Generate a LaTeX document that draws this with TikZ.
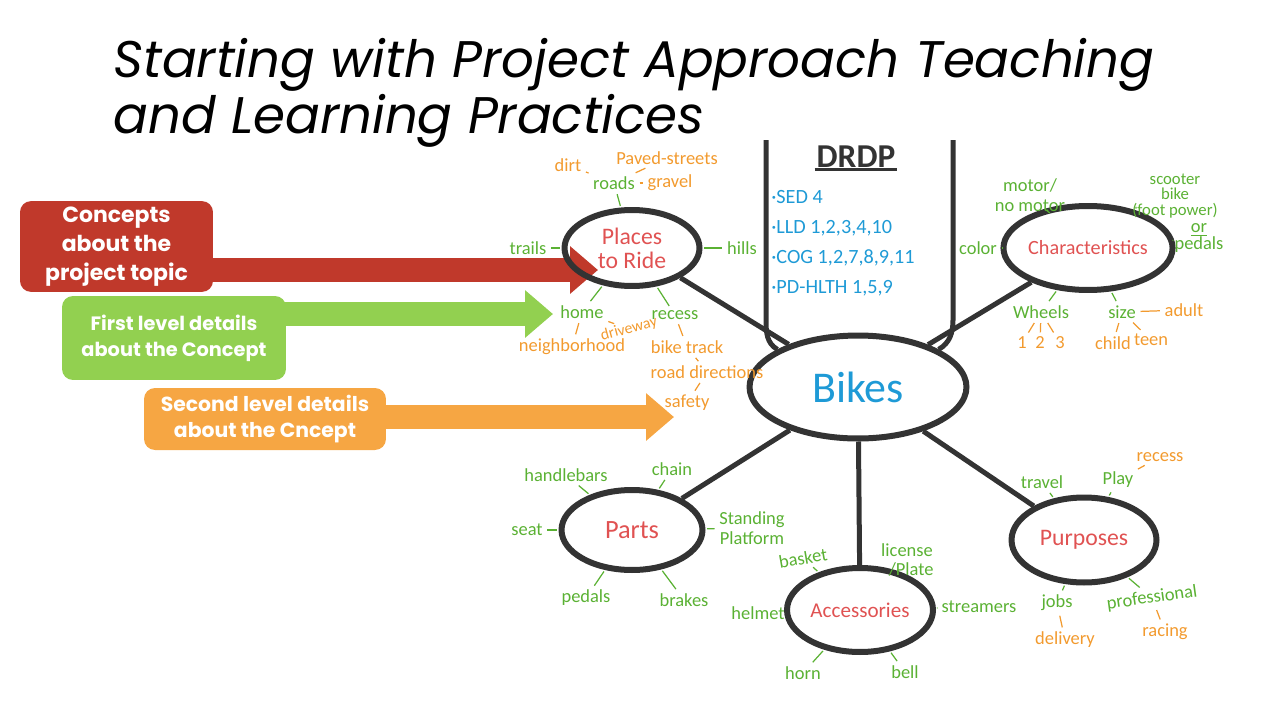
\documentclass[tikz,border=0pt]{standalone}
\usepackage{fontspec}
\usetikzlibrary{positioning}
\usetikzlibrary{shapes.geometric}
\usetikzlibrary{arrows.meta}
\setmainfont{Carlito}
\newfontfamily\slidefont{Poppins}
\definecolor{box-red}{HTML}{C0392B}
\definecolor{box-green}{HTML}{92D050}
\definecolor{box-orange}{HTML}{F6A643}
\definecolor{pen-green}{HTML}{5AB133}
\definecolor{pen-orange}{HTML}{F29A2E}
\definecolor{pen-red}{HTML}{E05252}
\definecolor{pen-blue}{HTML}{1E9AD6}
\definecolor{pen-black}{HTML}{333333}

\begin{document}
\begin{tikzpicture}[x=0.02cm, y=-0.02cm,
  topic/.style={ellipse, draw=pen-black, line width=0.12cm, inner sep=0pt,
    text=pen-red, align=center, font=\fontsize{13}{14}\selectfont},
  leaf/.style={inner sep=1.5pt, text=pen-green, align=center,
    font=\fontsize{10.5}{11}\selectfont},
  subleaf/.style={leaf, text=pen-orange},
  spoke/.style={draw=pen-black, line width=0.1cm},
  tick/.style={draw=pen-green, line width=0.7pt, shorten <=1pt, shorten >=1pt},
  subtick/.style={tick, draw=pen-orange},
  legend/.style={rounded corners=0.22cm, text=white, align=center,
    font=\slidefont\bfseries},
  fat arrow/.style={draw=#1, line width=0.47cm,
    -{Triangle[length=0.56cm, width=0.92cm]}}]
\useasboundingbox (0,0) rectangle (1280,720);

\node[anchor=base west, align=left, inner sep=0pt,
  font=\slidefont\itshape\fontsize{29.3}{31.7}\selectfont]
  (title) at (113,133)
  {Starting with Project Approach Teaching\\and Learning Practices};

\node[legend, fill=box-red, minimum width=3.86cm, minimum height=1.74cm,
  font=\slidefont\bfseries\fontsize{12.5}{16.4}\selectfont]
  (concepts) at (116.5,246.5) {Concepts\\about the\\project topic};
\node[legend, fill=box-green, minimum width=4.48cm, minimum height=1.68cm,
  font=\slidefont\bfseries\fontsize{11}{14.7}\selectfont]
  (first) at (174,338) {First level details\\about the Concept};
\node[legend, fill=box-orange, minimum width=4.84cm, minimum height=1.24cm,
  font=\slidefont\bfseries\fontsize{11.6}{15.3}\selectfont]
  (second) at (265,419) {Second level details\\about the Cncept};

\coordinate (concepts-tip) at (598,270);
\coordinate (first-tip) at (553,314);
\coordinate (second-tip) at (674,417);
\draw[fat arrow=box-red] ([xshift=-0.1cm]concepts.east |- concepts-tip) -- (concepts-tip);
\draw[fat arrow=box-green] ([xshift=-0.1cm]first.east |- first-tip) -- (first-tip);
\draw[fat arrow=box-orange] ([xshift=-0.1cm]second.east |- second-tip) -- (second-tip);

\node[topic, minimum width=4.34cm, minimum height=2.06cm, text=pen-blue,
  font=\fontsize{25}{25}\selectfont] (bikes) at (858,387) {Bikes};
\foreach \name/\x/\y/\across/\down/\size/\label in {
    places/632/248/2.7/1.52/13.5/Places\\to Ride,
    chars/1088/248/2.94/1.68/11.5/Characteristics,
    parts/632/530/2.82/1.6/15/Parts,
    acc/860/610/2.92/1.68/12/Accessories,
    purp/1084/540/2.9/1.7/13.5/Purposes} {
  \node[topic, minimum width=\across cm, minimum height=\down cm,
    font=\fontsize{\size}{\size}\selectfont]
    (\name) at (\x,\y) {\label};
  \draw[spoke] (bikes) -- (\name);
}

\coordinate (drdp-left) at (766,140);
\coordinate (drdp-right) at (953,140);
\draw[spoke] (drdp-left) -- ++(0,180) to[out=-90, in=150] (bikes.155);
\draw[spoke] (drdp-right) -- ++(0,180) to[out=-90, in=30] (bikes.25);
\node[inner sep=1pt, text=pen-black, font=\bfseries\fontsize{19}{19}\selectfont]
  (drdp) at (856,157) {DRDP};
\draw[spoke, line width=0.06cm] (drdp.south west) -- (drdp.south east);
\node[anchor=north west, align=left, inner sep=0pt, text=pen-blue,
  font=\fontsize{11.5}{17}\selectfont]
  (drdp-list) at (771,190)
  {·SED 4\\·LLD 1,2,3,4,10\\·COG 1,2,7,8,9,11\\·PD-HLTH 1,5,9};

\foreach \name/\x/\y/\rot/\label in {
    roads/614/183/0/roads, trails/528/248/0/trails, hills/742/248/0/hills,
    home/582/312/0/home, recess/675/315/0/recess,
    motor/1030/195/0/{motor/\\no motor},
    color/978/248/0/color, wheels/1041/312/0/Wheels, size/1122/312/0/size,
    handlebars/566/475/0/handlebars, chain/672/469/0/chain, seat/527/530/0/seat,
    standing/752/528/0/Standing\\Platform, pedals/586/598/0/pedals,
    brakes/684/600/0/brakes,
    basket/803/558/10/basket, license/907/560/0/{license\\\ \ /Plate},
    helmet/758/613/0/helmet, streamers/979/607/0/streamers,
    horn/803/673/0/horn, bell/905/672/0/bell,
    travel/1042/482/0/travel, play/1118/480/0/Play, jobs/1057/603/0/jobs,
    professional/1152/598/8/professional} {
  \node[leaf, rotate=\rot] (\name) at (\x,\y) {\label};
}
\node[leaf, font=\fontsize{9.5}{9}\selectfont]
  (scooter) at (1175,196) {scooter\\bike\\(foot power)};
\coordinate (scooter-foot) at (1136,205);
\node[leaf, font=\fontsize{10.5}{9.5}\selectfont]
  (pedalsc) at (1199,238) {\underline{or}\\pedals};
\foreach \name/\x/\y/\rot/\label in {
    dirt/568/165/0/dirt, paved/667/158/0/Paved-streets, gravel/670/183/0/gravel,
    neighborhood/572/347/0/neighborhood,
    biketrack/687/347/0/bike track, roaddir/707/372/0/road directions,
    safety/687/403/0/safety,
    one/1022/343/0/1, two/1040/343/0/2, three/1060/343/0/3,
    adult/1184/310/0/adult, child/1113/343/0/child, teen/1151/340/0/teen,
    recessp/1160/457/0/recess, delivery/1065/640/0/delivery,
    racing/1165/632/0/racing} {
  \node[subleaf, rotate=\rot] (\name) at (\x,\y) {\label};
}
\node[subleaf, rotate=15, inner sep=0.5pt, font=\fontsize{9}{10}\selectfont]
  (driveway) at (629,329) {driveway};

\foreach \a/\b in {places/roads, places/trails, places/hills, places/home,
    places/recess, chars/motor, chars.38/scooter-foot, chars/pedalsc,
    chars/color, chars/wheels, chars/size, parts/handlebars, parts/chain,
    parts/seat, parts/standing, parts/pedals, parts/brakes, acc/basket,
    acc/helmet, acc/streamers, acc/horn, acc/bell, purp/travel, purp/play,
    purp/jobs, purp/professional}
  \draw[tick] (\a) -- (\b);
\foreach \a/\b in {roads/dirt, roads/paved, roads/gravel, home/driveway,
    home/neighborhood, recess/biketrack, biketrack/roaddir, roaddir/safety,
    wheels/one, wheels/two, wheels/three, size/child, size/teen, size/adult,
    play/recessp, jobs/delivery, professional/racing}
  \draw[subtick] (\a) -- (\b);
\end{tikzpicture}
\end{document}
